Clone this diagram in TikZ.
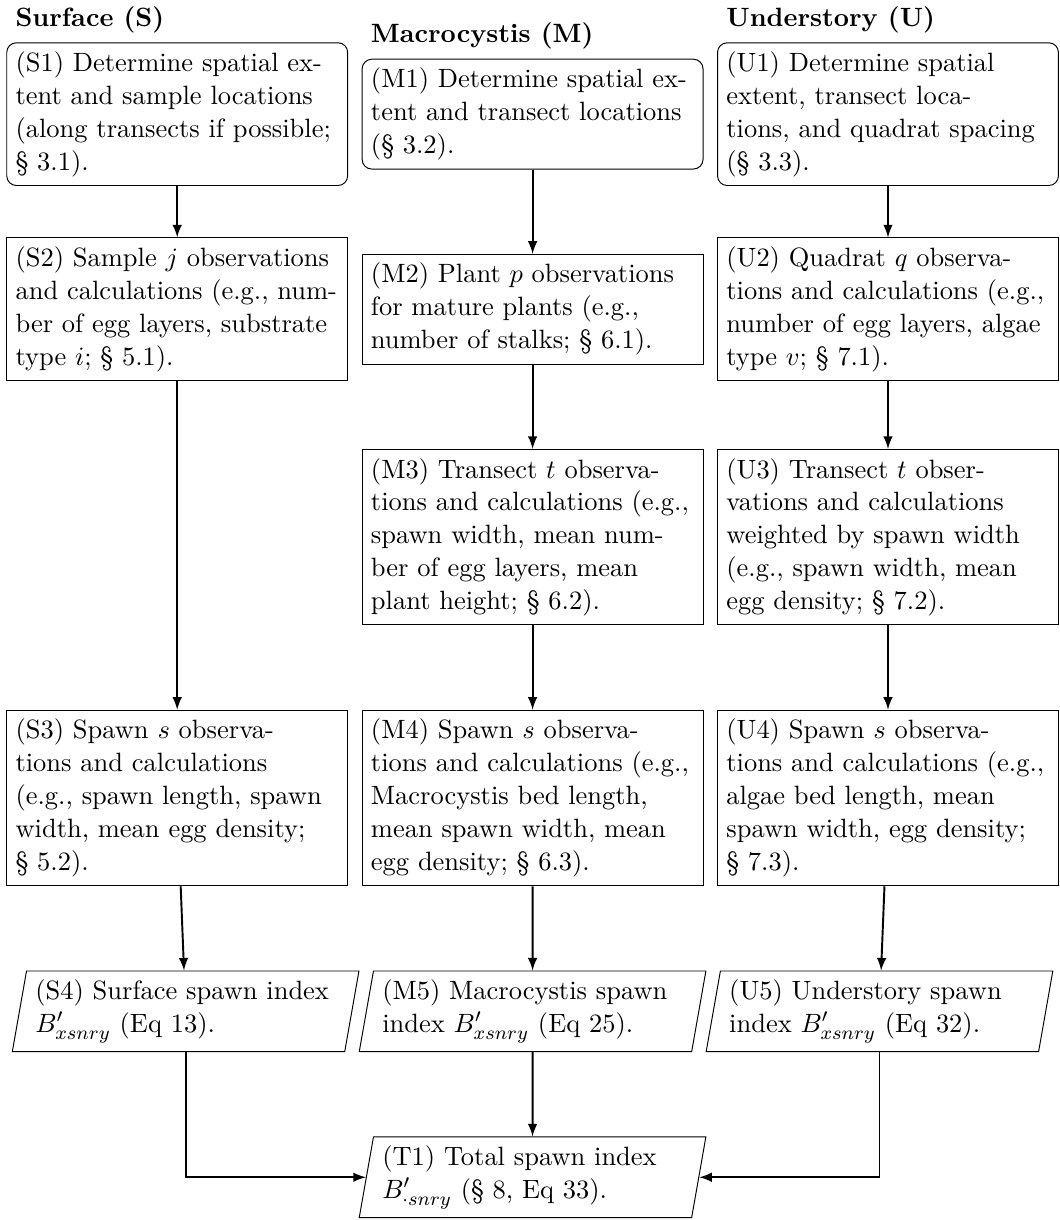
\documentclass[11pt,tikz,border=0pt]{standalone}
\usetikzlibrary{positioning,shapes.geometric}
\begin{document}
\begin{tikzpicture}[>=latex, node distance=1.225cm and 5.6pt,
  stepbox/.style={draw, rectangle, text width=4.7cm, align=left},
  startbox/.style={stepbox, rounded corners},
  iobox/.style={draw, trapezium, trapezium left angle=80, trapezium right angle=100, text width=4.37cm, align=left},
  head/.style={font=\bfseries, anchor=south west}]
\node[startbox](M1){(M1) Determine spatial extent and transect locations (\S~3.2).};
\node[startbox, left=of M1](S1){(S1) Determine spatial extent and sample locations (along transects if possible; \S~3.1).};
\node[startbox, right=of M1](U1){(U1) Determine spatial extent, transect locations, and quadrat spacing (\S~3.3).};
\node[head](hS) at (S1.north west){Surface (S)};
\node[head](hM) at (M1.north west){Macrocystis (M)};
\node[head](hU) at (U1.north west){Understory (U)};

\node[stepbox, below=of M1](M2){(M2) Plant $p$ observations for mature plants (e.g., number of stalks; \S~6.1).};
\node[stepbox, left=of M2](S2){(S2) Sample $j$ observations and calculations (e.g., number of egg layers, substrate type $i$; \S~5.1).};
\node[stepbox, right=of M2](U2){(U2) Quadrat $q$ observations and calculations (e.g., number of egg layers, algae type $v$; \S~7.1).};

\node[stepbox, below=of M2](M3){(M3) Transect $t$ observa-\\tions and calculations (e.g.,\\spawn width, mean num-\\ber of egg layers, mean\\plant height; \S~6.2).};
\node[stepbox, right=of M3](U3){(U3) Transect $t$ observations and calculations weighted by spawn width (e.g., spawn width, mean egg density; \S~7.2).};

\node[stepbox, below=of M3](M4){(M4) Spawn $s$ observations and calculations (e.g., Macrocystis bed length, mean spawn width, mean egg density; \S~6.3).};
\node[stepbox, left=of M4](S3){(S3) Spawn $s$ observa-\\tions and calculations\\(e.g., spawn length, spawn\\width, mean egg density;\\\S~5.2).};
\node[stepbox, right=of M4](U4){(U4) Spawn $s$ observa-\\tions and calculations (e.g.,\\algae bed length, mean\\spawn width, egg density;\\\S~7.3).};

\node[iobox, below=of M4](M5){(M5) Macrocystis spawn index $B'_{xsnry}$ (Eq 25).};
\node[iobox, left=of M5](S4){(S4) Surface spawn index $B'_{xsnry}$ (Eq 13).};
\node[iobox, right=of M5](U5){(U5) Understory spawn index $B'_{xsnry}$ (Eq 32).};

\node[iobox, below=of M5](T1){(T1) Total spawn index $B'_{\cdot snry}$ (\S~8, Eq 33).};

\draw[thick, ->](S1)--(S2);
\draw[thick, ->](S2)--(S3);
\draw[thick, ->](S3)--(S4);
\draw[thick, ->](M1)--(M2);
\draw[thick, ->](M2)--(M3);
\draw[thick, ->](M3)--(M4);
\draw[thick, ->](M4)--(M5);
\draw[thick, ->](U1)--(U2);
\draw[thick, ->](U2)--(U3);
\draw[thick, ->](U3)--(U4);
\draw[thick, ->](U4)--(U5);
\draw[thick, ->](S4)|-(T1);
\draw[thick, ->](M5)--(T1);
\draw[thick, ->](U5)|-(T1);

\pgfresetboundingbox
\coordinate(bbTL) at (S1.north west);
\coordinate(bbBR) at (U1.east |- T1.south);
\useasboundingbox ([xshift=-2.6pt, yshift=17.5pt]bbTL) rectangle ([xshift=0.1pt, yshift=-0.8pt]bbBR);
\end{tikzpicture}
\end{document}
